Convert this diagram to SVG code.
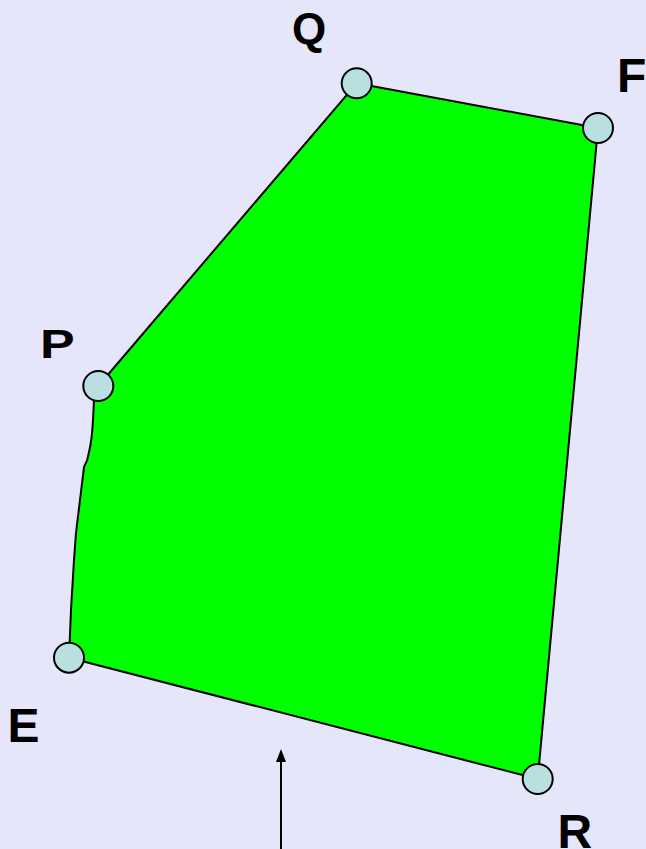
<svg xmlns="http://www.w3.org/2000/svg" width="646" height="849" viewBox="0 0 646 849">
<style>
.lbl{font-family:"Liberation Sans",Arial,sans-serif;font-weight:bold;fill:#000}
.pt{fill:#badfe0;stroke:#000;stroke-width:2}
</style>
<rect width="646" height="849" fill="#e6e6fb"/>
<g id="region">
<path d="M356.7,83.3 L598,128 L537.7,779 L69,657.7 L71,610 L74,560 L76,533 L84,467 Q88,460 89,452 Q92,440 93,420 L94,400 L98.3,386 Z" fill="#00ff00" stroke="#000" stroke-width="2" stroke-linejoin="round"/>
</g>
<g id="connectors">
<line x1="281" y1="849" x2="281" y2="762" stroke="#000" stroke-width="2"/>
<path d="M281,749 L286,762 L276,762 Z" fill="#000"/>
</g>
<g id="Q"><circle class="pt" cx="356.7" cy="83.3" r="15"/><text class="lbl" x="292" y="44" font-size="44">Q</text></g>
<g id="F"><circle class="pt" cx="598" cy="128" r="15"/><text class="lbl" x="617" y="91.7" font-size="48">F</text></g>
<g id="P"><circle class="pt" cx="98.3" cy="386" r="15"/><text class="lbl" transform="translate(40,358) scale(1.3,1)" x="0" y="0" font-size="40">P</text></g>
<g id="E"><circle class="pt" cx="69" cy="657.7" r="15"/><text class="lbl" x="7.5" y="741.7" font-size="48">E</text></g>
<g id="R"><circle class="pt" cx="537.7" cy="779" r="15"/><text class="lbl" x="557.4" y="848" font-size="48">R</text></g>
</svg>
